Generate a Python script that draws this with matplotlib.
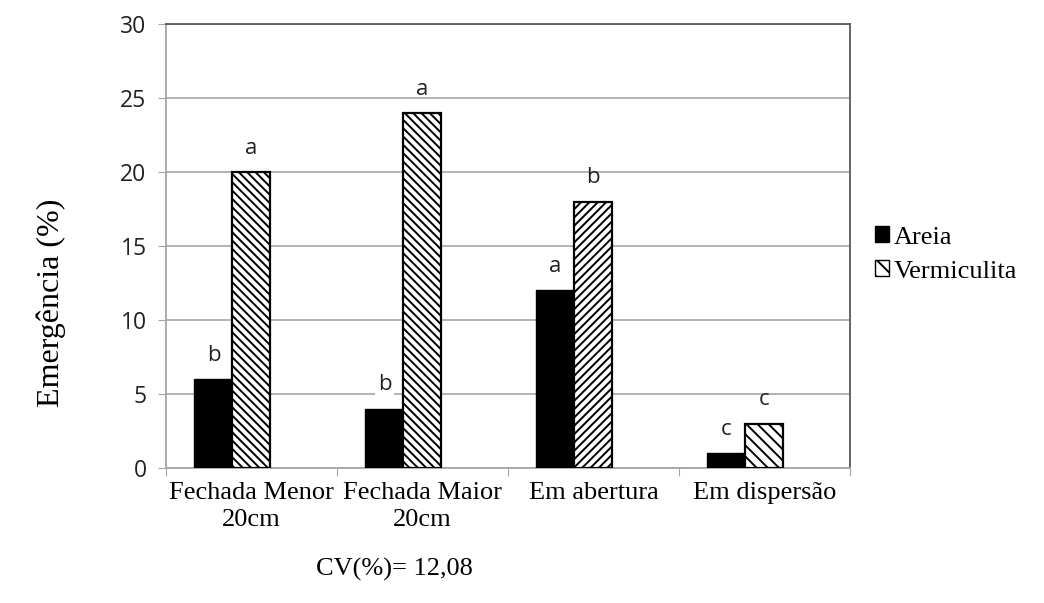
import numpy as np
import matplotlib.pyplot as plt
from matplotlib.patches import Patch

categorias = ['Fechada Menor\n20cm', 'Fechada Maior\n20cm', 'Em abertura', 'Em dispersão']
areia = [6, 4, 12, 1]
vermiculita = [20, 24, 18, 3]
letras_areia = ['b', 'b', 'a', 'c']
letras_verm = ['a', 'a', 'b', 'c']
hachuras = ['\\\\\\\\', '\\\\\\\\', '////', '\\\\\\']

fig = plt.figure(figsize=(10.44, 6.03), dpi=100)
ax = fig.add_axes([0.159, 0.224, 0.655, 0.736])

x = np.arange(len(categorias))
w = 1 / 4.5

plt.rcParams['hatch.linewidth'] = 1.4
ax.bar(x - w, areia, w, color='black', edgecolor='black', zorder=3)
for i in range(len(x)):
    ax.bar(x[i], vermiculita[i], w, color='white', edgecolor='black',
           hatch=hachuras[i], linewidth=1.6, zorder=3)

for i in range(len(x)):
    ax.text(x[i] - w, areia[i] + 0.9, letras_areia[i], ha='center', va='bottom',
            fontsize=16, family='Open Sans', color='#222222', zorder=4,
            bbox=dict(facecolor='white', edgecolor='none', pad=2))
    ax.text(x[i], vermiculita[i] + 0.9, letras_verm[i], ha='center', va='bottom',
            fontsize=16, family='Open Sans', color='#222222', zorder=4)

ax.set_xlim(-0.5, len(x) - 0.5)
ax.set_ylim(0, 30)
ax.set_yticks(range(0, 31, 5))
ax.yaxis.grid(True, color='#a6a6a6', linewidth=1.2, zorder=0)
ax.set_axisbelow(True)

ax.set_xticks(np.arange(-0.5, len(x)), minor=False)
ax.set_xticklabels([])
ax.set_xticks(x, minor=True)
ax.set_xticklabels(categorias, minor=True, family='Liberation Serif', fontsize=19,
                   linespacing=1.3)
ax.tick_params(axis='x', which='minor', length=0, pad=10)
ax.tick_params(axis='x', which='major', length=6, color='#a6a6a6')
ax.tick_params(axis='y', length=6, color='#a6a6a6', labelsize=16.5, labelcolor='#222222', pad=8)
for lab in ax.get_yticklabels():
    lab.set_family('Open Sans')

ax.spines['left'].set_color('#a6a6a6')
ax.spines['bottom'].set_color('#a6a6a6')
ax.spines['top'].set_color('#595959')
ax.spines['right'].set_color('#595959')
for s in ax.spines.values():
    s.set_linewidth(1.3)

ax.set_ylabel('Emergência (%)', family='Liberation Serif', fontsize=23)
ax.yaxis.set_label_coords(-0.146, 0.372)

handles = [Patch(facecolor='black', edgecolor='black', label='Areia'),
           Patch(facecolor='white', edgecolor='black', hatch='\\\\', label='Vermiculita')]
fig.legend(handles=handles, loc='center left', bbox_to_anchor=(0.838, 0.578),
           frameon=False, prop={'family': 'Liberation Serif', 'size': 19},
           handlelength=0.55, handleheight=0.55, handletextpad=0.15, labelspacing=0.45,
           borderpad=0, borderaxespad=0)

fig.text(0.378, 0.055, 'CV(%)= 12,08', family='Liberation Serif', fontsize=19,
         ha='center', va='center')

fig.savefig('out.png', dpi=100)
